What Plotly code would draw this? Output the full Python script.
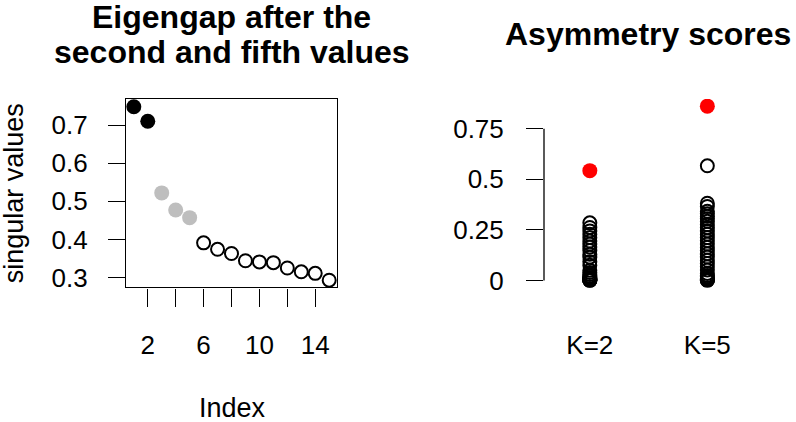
import plotly.graph_objects as go

# ---------------- data ----------------
index_vals = list(range(1, 16))
singular_values = [0.748, 0.710, 0.522, 0.477, 0.457, 0.391, 0.374, 0.363,
                   0.344, 0.341, 0.339, 0.325, 0.315, 0.311, 0.293]
n_black = 2   # values before first eigengap
n_gray = 3    # values between the two eigengaps

x_tickvals = [2, 4, 6, 8, 10, 12, 14]
x_ticktext = ["2", "", "6", "", "10", "", "14"]
y_tickvals_left = [0.3, 0.4, 0.5, 0.6, 0.7]

groups = ["K=2", "K=5"]
observed_scores = [0.543, 0.862]
null_scores_k2 = [0.285, 0.262, 0.245, 0.228, 0.213, 0.195, 0.18, 0.165, 0.148,
                  0.13, 0.115, 0.092, 0.075, 0.05, 0.04, 0.03, 0.022, 0.015,
                  0.01, 0.008, 0.005, 0.003, 0.002, 0.001, 0.0, 0.0]
null_scores_k5 = [0.567, 0.382, 0.366, 0.342, 0.33, 0.317, 0.305, 0.293, 0.275,
                  0.261, 0.245, 0.229, 0.212, 0.196, 0.18, 0.164, 0.148, 0.132,
                  0.116, 0.1, 0.084, 0.068, 0.052, 0.035, 0.025, 0.018, 0.011,
                  0.006, 0.003, 0.001, 0.0]
y_tickvals_right = [0, 0.25, 0.5, 0.75]
y_ticktext_right = ["0", "0.25", "0.5", "0.75"]

# ---------------- figure ----------------
FONT = "Liberation Sans, Arial, Helvetica, sans-serif"
W, H = 796, 422

fig = go.Figure()

# left panel
fig.add_trace(go.Scatter(
    x=index_vals[:n_black], y=singular_values[:n_black], mode="markers",
    marker=dict(size=15, color="black", line=dict(width=0)),
    xaxis="x", yaxis="y", showlegend=False))
fig.add_trace(go.Scatter(
    x=index_vals[n_black:n_black + n_gray], y=singular_values[n_black:n_black + n_gray],
    mode="markers", marker=dict(size=15, color="#bebebe", line=dict(width=0)),
    xaxis="x", yaxis="y", showlegend=False))
fig.add_trace(go.Scatter(
    x=index_vals[n_black + n_gray:], y=singular_values[n_black + n_gray:],
    mode="markers",
    marker=dict(size=13, color="white", symbol="circle", line=dict(width=2, color="black")),
    xaxis="x", yaxis="y", showlegend=False))

# right panel
fig.add_trace(go.Scatter(
    x=[1] * len(null_scores_k2) + [2] * len(null_scores_k5),
    y=null_scores_k2 + null_scores_k5, mode="markers",
    marker=dict(size=13, symbol="circle-open", color="black", line=dict(width=2)),
    xaxis="x2", yaxis="y2", showlegend=False))
fig.add_trace(go.Scatter(
    x=[1, 2], y=observed_scores, mode="markers",
    marker=dict(size=15, color="red", line=dict(width=0)),
    xaxis="x2", yaxis="y2", showlegend=False))

def px_x(p):
    return p / W

def px_y(p):
    return 1 - p / H

tickfont = dict(family=FONT, size=26, color="black")

fig.update_layout(
    width=W, height=H,
    margin=dict(l=0, r=0, t=0, b=0),
    paper_bgcolor="white", plot_bgcolor="white",
    font=dict(family=FONT, color="black"),
    xaxis=dict(domain=[px_x(126), px_x(337)], range=[0.44, 15.56],
               tickvals=x_tickvals, ticktext=x_ticktext,
               ticks="outside", ticklen=18, tickwidth=1.3, tickcolor="black",
               showline=True, linecolor="black", linewidth=1.3, mirror=True,
               showgrid=False, zeroline=False, tickfont=tickfont,
               ticklabelstandoff=16, anchor="y"),
    yaxis=dict(domain=[px_y(293), px_y(101)], range=[0.274, 0.768],
               tickvals=y_tickvals_left, ticktext=[f"{v:.1f}" for v in y_tickvals_left],
               ticks="outside", ticklen=17, tickwidth=1.3, tickcolor="black",
               showline=True, linecolor="black", linewidth=1.3, mirror=True,
               showgrid=False, zeroline=False, tickfont=tickfont,
               ticklabelstandoff=15, anchor="x"),
    xaxis2=dict(domain=[px_x(544), px_x(752)], range=[0.61, 2.38],
                tickvals=[1, 2], ticktext=groups,
                ticks="outside", ticklen=18, tickcolor="rgba(0,0,0,0)",
                showline=False, showgrid=False, zeroline=False, tickfont=tickfont,
                ticklabelstandoff=16, anchor="y2"),
    yaxis2=dict(domain=[px_y(293), px_y(101)], range=[-0.0345, 0.897],
                tickvals=y_tickvals_right, ticktext=y_ticktext_right,
                ticks="outside", ticklen=17, tickwidth=1.3, tickcolor="black",
                showline=False, showgrid=False, zeroline=False, tickfont=tickfont,
                ticklabelstandoff=17, anchor="x2"),
    shapes=[dict(type="line", xref="x2 domain", yref="y2", x0=0, x1=0,
                 y0=y_tickvals_right[0], y1=y_tickvals_right[-1],
                 line=dict(color="black", width=1.3))],
    annotations=[
        dict(text="<b>Eigengap after the</b>", x=px_x(231.5), y=px_y(17),
             xref="paper", yref="paper", showarrow=False,
             xanchor="center", yanchor="middle",
             font=dict(family=FONT, size=32, color="black")),
        dict(text="<b>second and fifth values</b>", x=px_x(231.5), y=px_y(53),
             xref="paper", yref="paper", showarrow=False,
             xanchor="center", yanchor="middle",
             font=dict(family=FONT, size=32, color="black")),
        dict(text="<b>Asymmetry scores</b>", x=px_x(648), y=px_y(35),
             xref="paper", yref="paper", showarrow=False,
             xanchor="center", yanchor="middle",
             font=dict(family=FONT, size=32, color="black")),
        dict(text="Index", x=px_x(232), y=px_y(416),
             xref="paper", yref="paper", showarrow=False,
             xanchor="center", yanchor="middle",
             font=dict(family=FONT, size=27, color="black")),
        dict(text="singular values", x=px_x(14), y=px_y(197), textangle=-90,
             xref="paper", yref="paper", showarrow=False,
             xanchor="center", yanchor="middle",
             font=dict(family=FONT, size=27, color="black")),
    ],
)

fig.write_html("out.html", config={"displayModeBar": False},
               post_script="document.body.style.margin='0px';document.body.style.overflow='hidden';")
